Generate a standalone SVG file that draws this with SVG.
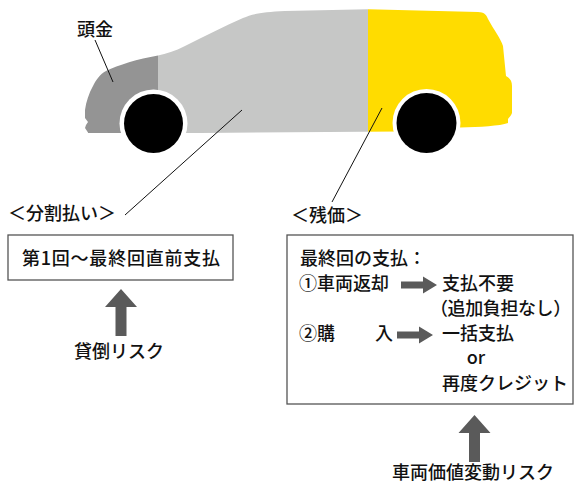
<svg xmlns="http://www.w3.org/2000/svg" width="575" height="483" viewBox="0 0 575 483">
  <style>
    text { font-family: "Noto Sans CJK JP", "Noto Sans", sans-serif; font-size: 18px; font-weight: 500; fill: #111; }
    .box { fill: #fff; stroke: #555; stroke-width: 1.3; }
    .leader { stroke: #111; stroke-width: 1; fill: none; }
    .garrow { fill: #5a5a5a; }
    .ring { fill: #fff; }
    .tire { fill: #000; }
  </style>
  <defs>
    <clipPath id="bodyClip">
      <path d="M 88,132.5 L 85,128 L 86,125 L 88,122 L 85,118 L 85,110
               C 86,102 89,93 93,86 C 96,80 100,74 106,71
               C 118,65 138,59 158,55.5 C 166,54 175,51 185,46
               C 205,36 225,26 243,18 C 252,14 262,12 285,11
               L 368,9.3 L 478,12 C 484,12.5 486,14 488,19
               C 494,30 501,39 503,46 L 506,76
               C 510,78 512,81 512,86 L 512,113
               C 511,116 509,117 508,119 L 508,123
               C 500,126 480,127 460,127.5 L 400,131.5 L 200,133 L 88,133 Z"/>
    </clipPath>
    <!-- upward block arrow, tip at origin -->
    <path id="upArrow" d="M 0,0 L 16,18 L 5.5,18 L 5.5,47 L -5.5,47 L -5.5,18 L -16,18 Z"/>
    <!-- rightward block arrow, tip at origin -->
    <path id="rightArrow" d="M 0,0 L -14,-8.5 L -14,-3.5 L -36,-3.5 L -36,3.5 L -14,3.5 L -14,8.5 Z"/>
  </defs>

  <!-- car body split into down payment / installments / residual value -->
  <g id="car">
    <g clip-path="url(#bodyClip)">
      <rect x="80" y="0" width="78" height="140" fill="#949494"/>
      <rect x="158" y="0" width="210" height="140" fill="#c6c7c6"/>
      <rect x="368" y="0" width="150" height="140" fill="#ffdc00"/>
    </g>
    <circle class="ring" cx="153.5" cy="123.5" r="34"/>
    <circle class="tire" cx="153.5" cy="123.5" r="29.5"/>
    <circle class="ring" cx="426.5" cy="123" r="34"/>
    <circle class="tire" cx="426.5" cy="123" r="30"/>
  </g>

  <g id="down-payment">
    <text x="77" y="36">頭金</text>
  </g>

  <g id="installments">
    <text x="8" y="220">＜分割払い＞</text>
    <rect class="box" x="8" y="235" width="225" height="45"/>
    <text x="121" y="265" text-anchor="middle" textLength="198" lengthAdjust="spacing">第1回〜最終回直前支払</text>
    <text x="119" y="358" text-anchor="middle">貸倒リスク</text>
  </g>

  <g id="residual">
    <text x="291" y="222">＜残価＞</text>
    <rect class="box" x="287" y="235" width="286" height="169"/>
    <text x="300" y="265">最終回の支払：</text>
    <text x="299" y="290">①車両返却</text>
    <text x="442" y="290">支払不要</text>
    <text x="430" y="315" letter-spacing="-0.4">（追加負担なし）</text>
    <text x="299" y="340">②購</text>
    <text x="375" y="340">入</text>
    <text x="442" y="340">一括支払</text>
    <text x="476" y="364" text-anchor="middle">or</text>
    <text x="442" y="390">再度クレジット</text>
    <text x="473" y="479" text-anchor="middle">車両価値変動リスク</text>
  </g>

  <g id="connectors">
    <line class="leader" x1="95" y1="40" x2="113" y2="82"/>
    <line class="leader" x1="242" y1="110" x2="125" y2="215"/>
    <line class="leader" x1="382" y1="108" x2="332" y2="202"/>
    <use href="#upArrow" class="garrow" x="121" y="289"/>
    <use href="#upArrow" class="garrow" x="474.5" y="415"/>
    <use href="#rightArrow" class="garrow" x="437" y="285"/>
    <use href="#rightArrow" class="garrow" x="433" y="335"/>
  </g>
</svg>
